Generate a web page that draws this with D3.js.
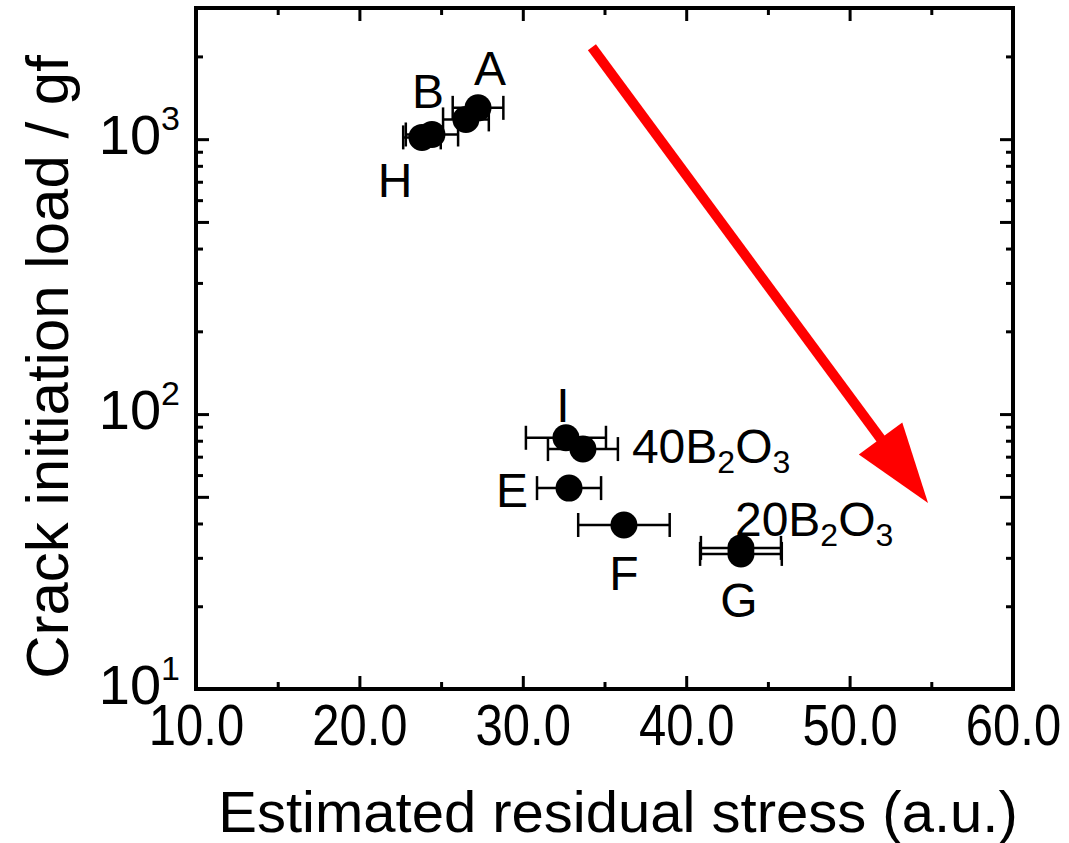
<!DOCTYPE html>
<html>
<head>
<meta charset="utf-8">
<script src="https://cdn.jsdelivr.net/npm/d3@7"></script>
<style>
  body { margin: 0; background: #fff; }
  text { font-family: "Liberation Sans", Arial, sans-serif; fill: #000; }
</style>
</head>
<body>
<div id="chart"></div>
<script>
// samples (the second top point carries no label in the figure)
const samples = ["A", "", "B", "H", "I", "40B2O3", "E", "F", "G", "20B2O3"];
const stress = [27.26, 26.52, 24.44, 23.83, 32.64, 33.68, 32.83, 36.19, 43.35, 43.35];
const stressErr = [1.55, 1.4, 1.6, 1.15, 2.45, 2.14, 1.96, 2.8, 2.45, 2.5];
const load = [1300, 1180, 1040, 1015, 82, 74.6, 53.8, 39.5, 32.6, 31.0];

const xTicks = [10, 20, 30, 40, 50, 60];
const xMinorTicks = [15, 25, 35, 45, 55];
const yTicks = [10, 100, 1000];
const yMidTicks = [50, 500];
const yMinorTicks = [20, 30, 40, 60, 70, 80, 90, 200, 300, 400, 600, 700, 800, 900, 2000];

// trend arrow, in data units
const arrowFrom = [34.23, 2160];
const arrowTo = [54.8, 47.5];

// label offsets in px from the point
const labelOffsets = {
    "A": [12, -23, "middle"], "B": [-4, -26, "middle"], "H": [-27, 60, "middle"],
    "I": [-3, -16, "middle"], "40B2O3": [49, 14, "start"], "E": [-57, 19, "middle"],
    "F": [0, 65, "middle"], "G": [-2, 69, "middle"], "20B2O3": [-6, -18, "start"]
};

const margin = { top: 8, right: 56, bottom: 154, left: 196 },
    width = 1069 - margin.left - margin.right,
    height = 843 - margin.top - margin.bottom;

const svg = d3.select("#chart")
    .append("svg")
    .attr("width", 1069)
    .attr("height", 843)
    .append("g")
    .attr("transform", "translate(" + margin.left + "," + margin.top + ")");

const x = d3.scaleLinear().domain([10, 60]).range([0, width]);
const y = d3.scaleLog().domain([10, 3000]).range([height, 0]);

function styleAxis(g) {
    g.select(".domain").remove();
    g.selectAll("line").attr("stroke", "#000").attr("stroke-width", 3);
}

// x axis bottom
svg.append("g")
    .attr("transform", "translate(0," + height + ")")
    .call(d3.axisBottom(x).tickValues(xTicks).tickSize(-13).tickPadding(16).tickFormat(d3.format(".1f")))
    .call(styleAxis)
    .selectAll("text")
    .attr("font-size", "57px")
    .attr("font-family", "Liberation Sans, Arial, sans-serif")
    .attr("transform", "scale(0.86,1)");
svg.append("g")
    .attr("transform", "translate(0," + height + ")")
    .call(d3.axisBottom(x).tickValues(xMinorTicks).tickSize(-7).tickFormat(""))
    .call(styleAxis);
// x axis top (mirror)
svg.append("g")
    .call(d3.axisTop(x).tickValues(xTicks).tickSize(-13).tickFormat(""))
    .call(styleAxis);
svg.append("g")
    .call(d3.axisTop(x).tickValues(xMinorTicks).tickSize(-7).tickFormat(""))
    .call(styleAxis);

// y axis left
const yLeft = svg.append("g")
    .call(d3.axisLeft(y).tickValues(yTicks).tickSize(-13).tickFormat(() => "10"))
    .call(styleAxis);
yLeft.selectAll(".tick text")
    .attr("x", -16)
    .attr("y", 14)
    .attr("dy", null)
    .attr("font-size", "56px")
    .attr("text-anchor", "end")
    .each(function(d) {
        d3.select(this).append("tspan")
            .attr("font-size", "34px")
            .attr("dy", -24)
            .text(Math.round(Math.log10(d)));
    });
[[yMidTicks, -13], [yMinorTicks, -7]].forEach(([vals, size]) => {
    svg.append("g").call(d3.axisLeft(y).tickValues(vals).tickSize(size).tickFormat("")).call(styleAxis);
    svg.append("g").attr("transform", "translate(" + width + ",0)")
        .call(d3.axisRight(y).tickValues(vals).tickSize(size).tickFormat("")).call(styleAxis);
});
svg.append("g").attr("transform", "translate(" + width + ",0)")
    .call(d3.axisRight(y).tickValues(yTicks).tickSize(-13).tickFormat(""))
    .call(styleAxis);

// drop the empty labels of the tick-only axes
svg.selectAll(".tick text").filter(function() { return this.textContent === ""; }).remove();

// frame
svg.append("rect")
    .attr("x", 0).attr("y", 0)
    .attr("width", width).attr("height", height)
    .attr("fill", "none")
    .attr("stroke", "#000")
    .attr("stroke-width", 4);

// axis titles
svg.append("text")
    .attr("x", 422)
    .attr("y", height + 143)
    .attr("text-anchor", "middle")
    .attr("font-size", "58px")
    .text("Estimated residual stress (a.u.)");
svg.append("text")
    .attr("transform", "translate(" + (68 - margin.left) + "," + (367 - margin.top) + ") rotate(-90)")
    .attr("text-anchor", "middle")
    .attr("font-size", "60px")
    .text("Crack initiation load / gf");

// arrow
const ax0 = x(arrowFrom[0]), ay0 = y(arrowFrom[1]);
const ax1 = x(arrowTo[0]), ay1 = y(arrowTo[1]);
const ang = Math.atan2(ay1 - ay0, ax1 - ax0);
const headLen = 80, headHalf = 27;
const bx = ax1 - headLen * Math.cos(ang), by = ay1 - headLen * Math.sin(ang);
svg.append("line")
    .attr("x1", ax0).attr("y1", ay0)
    .attr("x2", bx + 4 * Math.cos(ang)).attr("y2", by + 4 * Math.sin(ang))
    .attr("stroke", "#ff0000")
    .attr("stroke-width", 10);
svg.append("polygon")
    .attr("points", [
        [ax1, ay1],
        [bx + headHalf * Math.sin(ang), by - headHalf * Math.cos(ang)],
        [bx - headHalf * Math.sin(ang), by + headHalf * Math.cos(ang)]
    ].map(p => p.join(",")).join(" "))
    .attr("fill", "#ff0000");

// points with error bars
const idx = d3.range(samples.length);
const eb = svg.append("g").attr("stroke", "#000").attr("stroke-width", 2.5);
idx.forEach(i => {
    const cy = y(load[i]);
    const xl = x(stress[i] - stressErr[i]), xr = x(stress[i] + stressErr[i]);
    eb.append("line").attr("x1", xl).attr("x2", xr).attr("y1", cy).attr("y2", cy);
    eb.append("line").attr("x1", xl).attr("x2", xl).attr("y1", cy - 12).attr("y2", cy + 12);
    eb.append("line").attr("x1", xr).attr("x2", xr).attr("y1", cy - 12).attr("y2", cy + 12);
});
svg.selectAll("circle.pt")
    .data(idx)
    .enter()
    .append("circle")
    .attr("class", "pt")
    .attr("cx", i => x(stress[i]))
    .attr("cy", i => y(load[i]))
    .attr("r", 13.5)
    .attr("fill", "#000");

// point labels, digits after a letter become subscripts
idx.filter(i => samples[i] !== "").forEach(i => {
    const off = labelOffsets[samples[i]];
    const t = svg.append("text")
        .attr("x", x(stress[i]) + off[0])
        .attr("y", y(load[i]) + off[1])
        .attr("text-anchor", off[2])
        .attr("font-size", "48px");
    const parts = samples[i].match(/^\d+|[A-Za-z]\d*/g);
    let lowered = false;
    parts.forEach((p, k) => {
        const m = p.match(/^([A-Za-z])(\d+)$/);
        const letter = (k > 0 && m) ? m[1] : p;
        t.append("tspan").attr("dy", lowered ? -10 : null).text(letter);
        lowered = false;
        if (k > 0 && m) {
            t.append("tspan").attr("font-size", "32px").attr("dy", 10).text(m[2]);
            lowered = true;
        }
    });
});
</script>
</body>
</html>
